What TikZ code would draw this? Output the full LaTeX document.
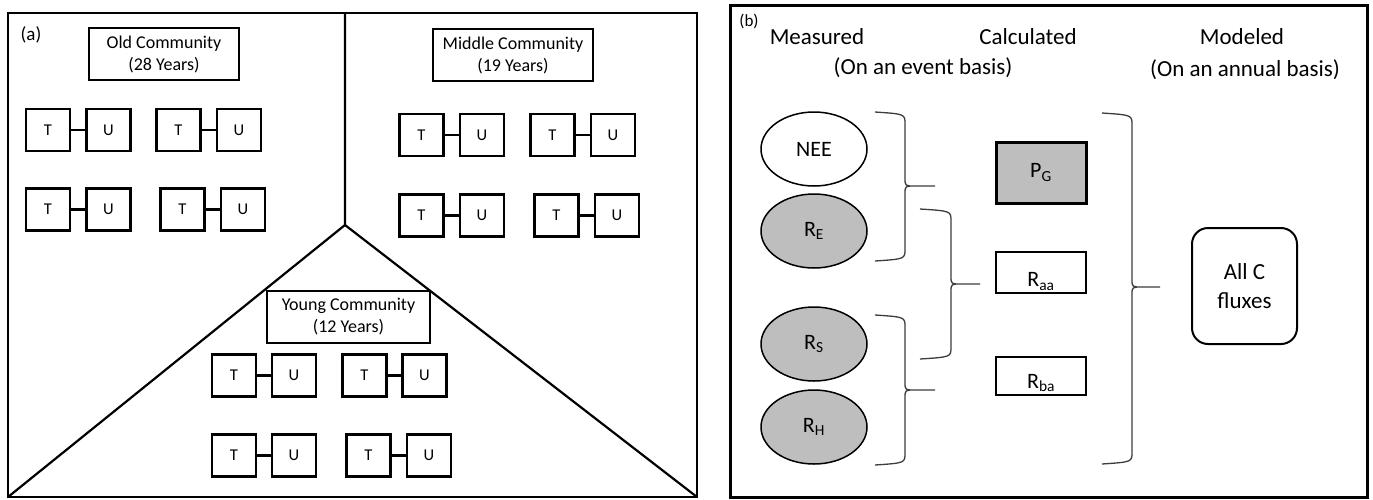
\documentclass[tikz,border=0pt]{standalone}
\usepackage{fontspec}
\setmainfont{Carlito}
\usetikzlibrary{shapes.geometric}
\definecolor{fillg}{RGB}{190,190,190}
\definecolor{bracec}{RGB}{60,60,60}
\tikzset{
  tubox/.style={draw, line width=2.2pt, minimum width=44pt, minimum height=42pt, inner sep=0pt, font=\fontsize{16.5}{19}\selectfont},
  tulink/.style={line width=2.2pt},
  commbox/.style={draw, line width=2.2pt, align=center, inner sep=0pt, minimum height=52pt, font=\fontsize{18}{22}\selectfont},
  frameline/.style={line width=2.2pt},
  head/.style={font=\fontsize{23}{28}\selectfont, inner sep=0pt},
  ell/.style={ellipse, draw, line width=1.5pt, minimum width=106pt, minimum height=74pt, inner sep=0pt, font=\fontsize{22}{26}\selectfont},
  calcbox/.style={draw, line width=2pt, minimum width=90pt, inner sep=0pt, font=\fontsize{22}{26}\selectfont},
  braceline/.style={draw=bracec, line width=1.3pt},
}
\newcommand{\tupair}[5]{%
  \node[tubox] (#1T) at (#2,#5) {T};
  \node[tubox] (#1U) at (#3,#5) {U};
  \draw[tulink] (#1T.east) -- (#1U.west);
}
\newcommand{\cbr}[6]{%
  \draw[braceline] (#1,#4) .. controls (#2,#4+2) .. (#2,#4+12) -- (#2,#5-8)
    .. controls (#2,#5) .. (#2+10,#5) -- (#3,#5)
    (#2+10,#5) .. controls (#2,#5) .. (#2,#5+8) -- (#2,#6-12)
    .. controls (#2,#6-2) .. (#1,#6);
}
\begin{document}
\begin{tikzpicture}[x=1pt,y=-1pt]
\useasboundingbox (0,0) rectangle (1373,499);
% ---------- panel (a)
\draw[frameline] (8,13) rectangle (697,497);
\coordinate (top) at (345,13);
\coordinate (apex) at (345,225);
\coordinate (bl) at (8,497);
\coordinate (br) at (697,497);
\draw[frameline] (top) -- (apex) -- (bl);
\draw[frameline] (apex) -- (br);
\node[font=\fontsize{19}{22}\selectfont, inner sep=0pt] (alab) at (31,35) {(a)};
\node[commbox, minimum width=150pt] (old) at (164,54) {Old Community\\(28 Years)};
\node[commbox, minimum width=160pt] (mid) at (513,55) {Middle Community\\(19 Years)};
\node[commbox, minimum width=163pt, fill=white] (young) at (348.5,317) {Young Community\\(12 Years)};
% old
\tupair{o1}{48}{108.5}{}{130}
\tupair{o2}{178.5}{239}{}{130}
\tupair{o3}{48}{108.5}{}{209.5}
\tupair{o4}{182.5}{243}{}{209.5}
% middle
\tupair{m1}{421.5}{482}{}{135}
\tupair{m2}{552.5}{613}{}{135}
\tupair{m3}{421.5}{482}{}{215.5}
\tupair{m4}{556.5}{617}{}{215.5}
% young
\tupair{y1}{234}{294}{}{375.5}
\tupair{y2}{364.5}{424.5}{}{375.5}
\tupair{y3}{234}{294}{}{455.5}
\tupair{y4}{368.5}{429}{}{455.5}
% ---------- panel (b)
\draw[line width=3pt] (730,5) rectangle (1367,497);
\node[font=\fontsize{17}{20}\selectfont, inner sep=0pt] (blab) at (749,21) {(b)};
\node[head] (meas) at (817,37) {Measured};
\node[head] (calc) at (1028,37) {Calculated};
\node[head] (event) at (923,68) {(On an event basis)};
\node[head] (model) at (1242,37) {Modeled};
\node[head] (annual) at (1245,70) {(On an annual basis)};
\node[ell] (nee) at (814,149) {NEE};
\node[ell, fill=fillg] (re) at (814,231) {R\textsubscript{E}};
\node[ell, fill=fillg] (rs) at (814,344) {R\textsubscript{S}};
\node[ell, fill=fillg] (rh) at (814,427) {R\textsubscript{H}};
\node[calcbox, line width=3pt, fill=fillg, minimum height=61pt] (pg) at (1041,172.5) {P\textsubscript{G}};
\node[calcbox, minimum height=41pt, label={[font=\fontsize{22}{26}\selectfont, yshift=-9pt]center:R\textsubscript{aa}}] (raa) at (1041,272.5) {};
\node[calcbox, minimum height=38pt, label={[font=\fontsize{22}{26}\selectfont, yshift=-7pt]center:R\textsubscript{ba}}] (rba) at (1041,376) {};
\node[draw, line width=2pt, rounded corners=16pt, minimum width=105pt, minimum height=116pt, align=center, font=\fontsize{23}{29}\selectfont] (allc) at (1244.5,286) {All C\\fluxes};
% braces
\cbr{875}{905}{935}{112}{186}{261}
\cbr{920}{951}{980}{209}{284}{359}
\cbr{875}{905}{935}{315}{390}{465}
\cbr{1102}{1132}{1160}{113}{287}{464}
\end{tikzpicture}
\end{document}
